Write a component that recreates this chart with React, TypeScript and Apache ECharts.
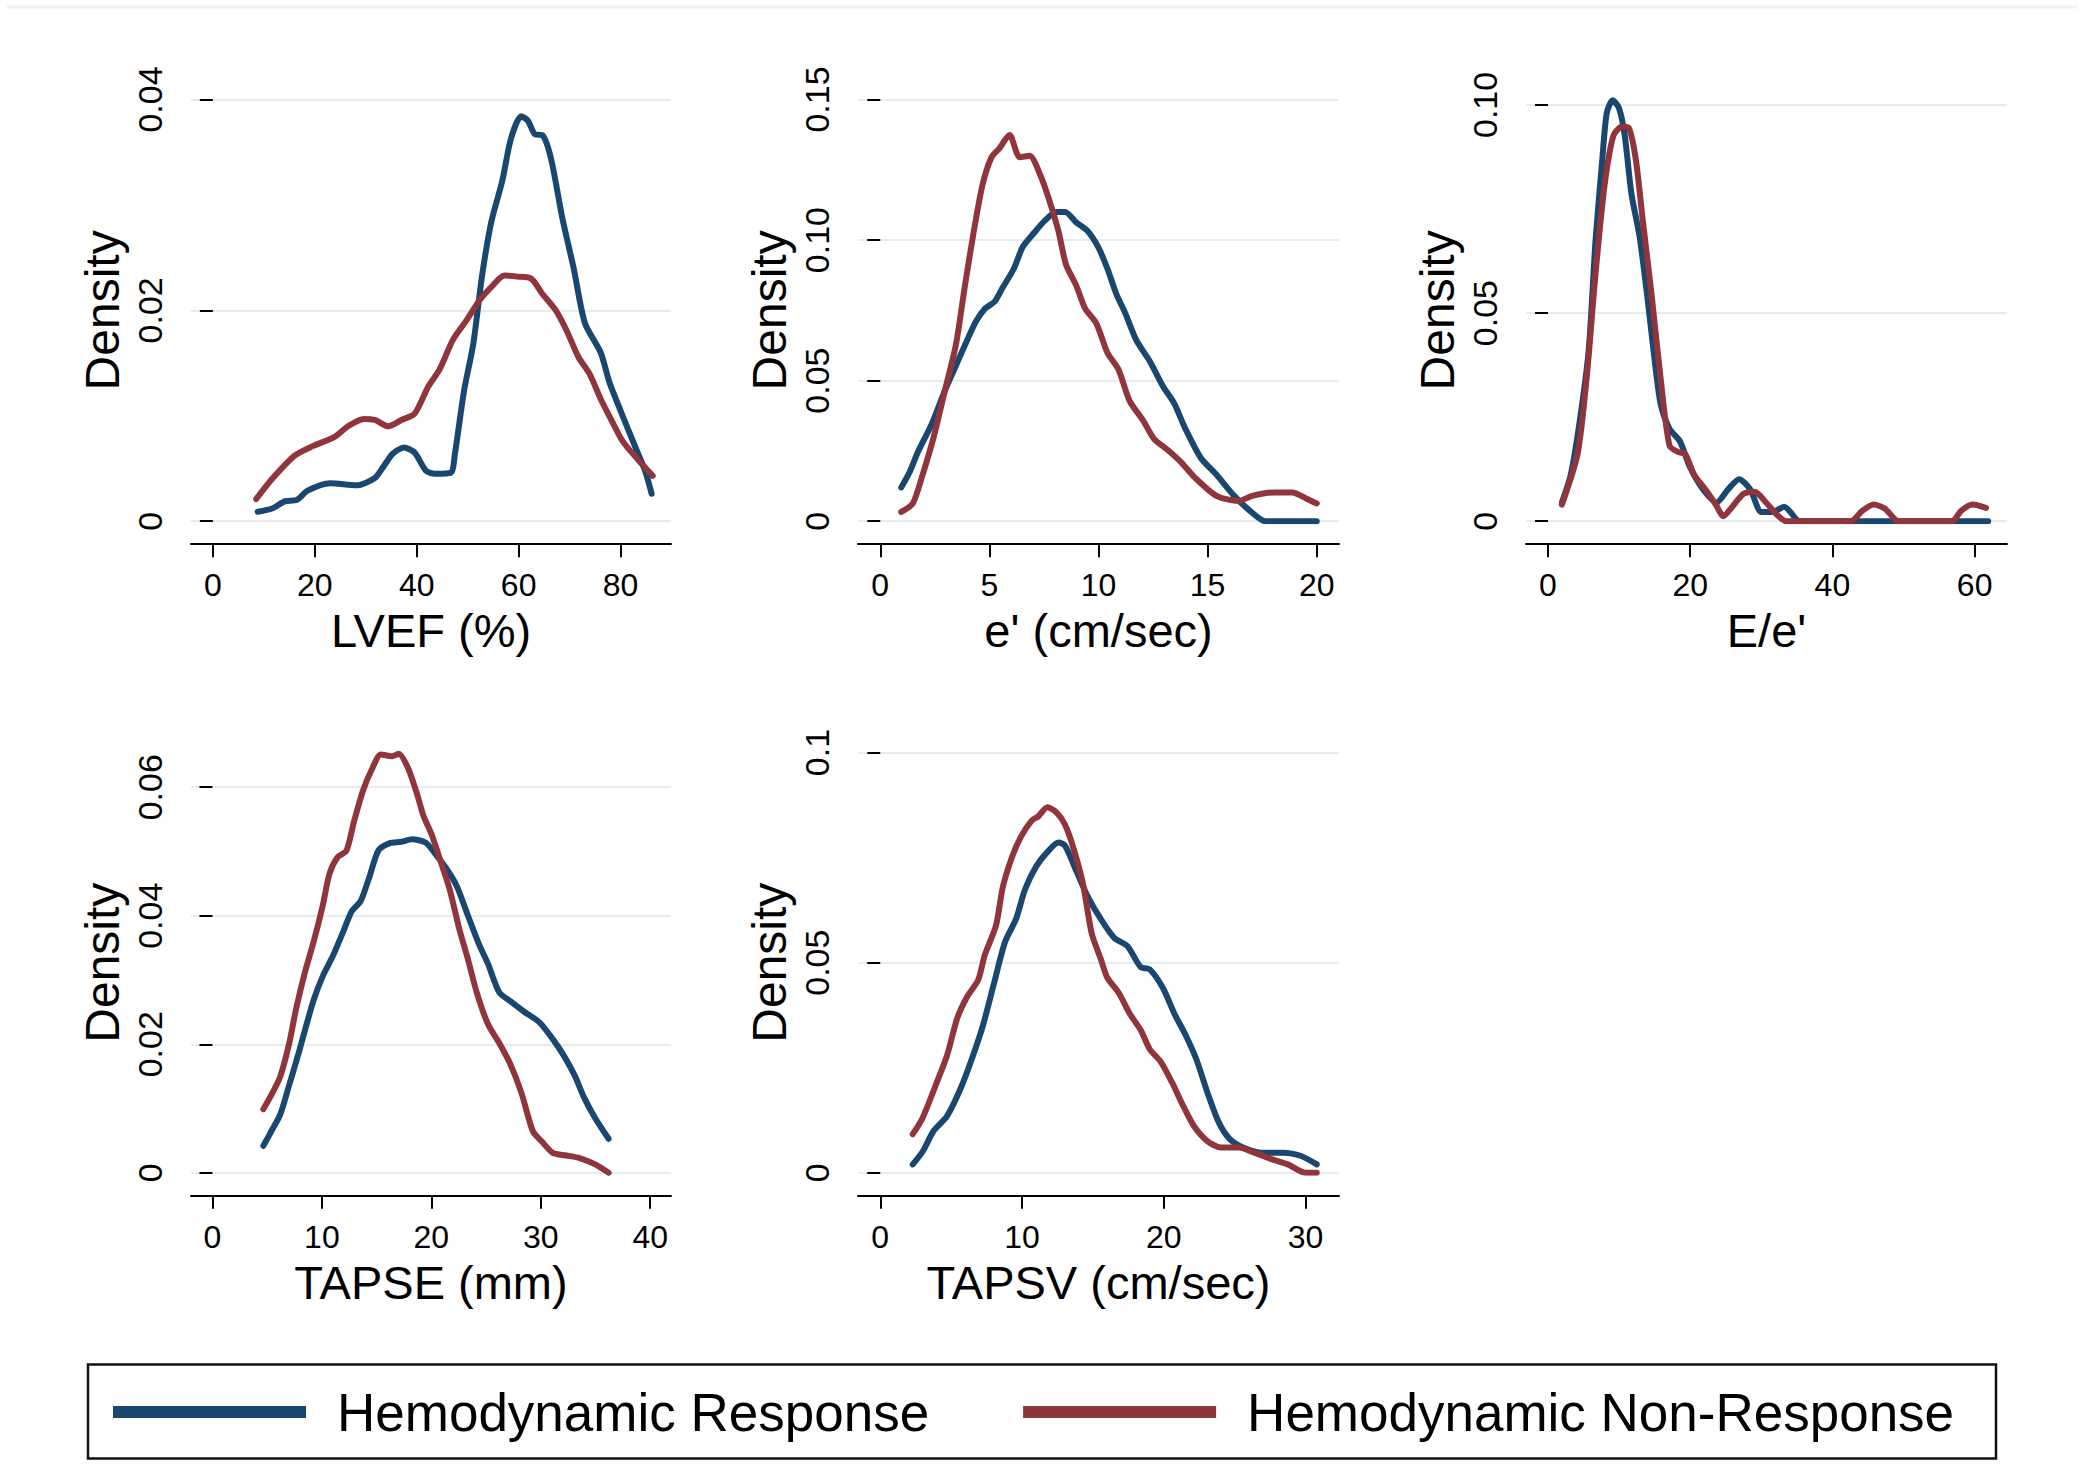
import React, { useEffect, useRef } from 'react';
import * as echarts from 'echarts';

// ---------- DATA ----------
const seriesNames = ['Hemodynamic Response', 'Hemodynamic Non-Response'];
const axisTitles = ['LVEF (%)', "e' (cm/sec)", "E/e'", 'TAPSE (mm)', 'TAPSV (cm/sec)'];

const xTickValues = [
  [0, 20, 40, 60, 80],
  [0, 5, 10, 15, 20],
  [0, 20, 40, 60],
  [0, 10, 20, 30, 40],
  [0, 10, 20, 30],
];
const yTickValues = [
  [0, 0.02, 0.04],
  [0, 0.05, 0.1, 0.15],
  [0, 0.05, 0.1],
  [0, 0.02, 0.04, 0.06],
  [0, 0.05, 0.1],
];
const yTickLabels = [
  ['0', '0.02', '0.04'],
  ['0', '0.05', '0.10', '0.15'],
  ['0', '0.05', '0.10'],
  ['0', '0.02', '0.04', '0.06'],
  ['0', '0.05', '0.1'],
];
const xExtents = [
  [-4.29, 89.9],
  [-1.02, 21.02],
  [-3.09, 64.55],
  [-1.96, 41.9],
  [-1.57, 32.36],
];
const yMaxima = [0.04, 0.15, 0.1013, 0.0654, 0.1];

// LVEF (%)
const lvefResponse = [
  [8.8, 0.0009], [11.6, 0.0012], [14.2, 0.0019], [16.4, 0.002], [18.6, 0.0029], [23.0, 0.0036],
  [28.2, 0.0034], [31.8, 0.0041], [33.5, 0.0052], [35.3, 0.0064], [37.5, 0.007], [39.6, 0.0065],
  [41.8, 0.0048], [43.6, 0.0045], [46.7, 0.0046], [47.5, 0.0064], [49.3, 0.0124], [51.1, 0.0168],
  [52.8, 0.0232], [54.6, 0.0283], [56.8, 0.0323], [58.5, 0.0363], [60.5, 0.0384], [61.8, 0.038],
  [63.2, 0.0367], [64.7, 0.0366], [66.4, 0.0343], [68.6, 0.0287], [70.8, 0.024], [73.0, 0.0188],
  [76.1, 0.016], [77.8, 0.0132], [80.4, 0.01], [83.1, 0.0068], [84.8, 0.0048], [86.1, 0.0026],
];
const lvefNonResponse = [
  [8.5, 0.0021], [11.6, 0.004], [16.0, 0.0062], [19.5, 0.0071], [23.9, 0.008], [26.5, 0.009],
  [29.6, 0.0097], [31.8, 0.0096], [34.4, 0.009], [37.0, 0.0096], [39.6, 0.0102], [42.3, 0.0128],
  [44.5, 0.0144], [47.1, 0.0172], [49.7, 0.019], [52.4, 0.021], [55.0, 0.0224], [57.2, 0.0233],
  [59.8, 0.0232], [62.5, 0.023], [64.6, 0.0216], [67.3, 0.02], [69.5, 0.018], [71.7, 0.0156],
  [73.9, 0.014], [76.1, 0.0116], [78.2, 0.0096], [80.4, 0.0076], [83.5, 0.0058], [86.3, 0.0043],
];

// e' (cm/sec)
const ePrimeResponse = [
  [0.96, 0.012], [1.33, 0.0172], [1.73, 0.0247], [2.35, 0.0344], [2.96, 0.0464], [3.47, 0.0554],
  [3.98, 0.0644], [4.39, 0.0711], [4.8, 0.0756], [5.24, 0.0781], [5.61, 0.0831], [6.12, 0.0898],
  [6.53, 0.0976], [7.04, 0.1025], [7.55, 0.107], [8.06, 0.11], [8.47, 0.11], [8.98, 0.1063],
  [9.49, 0.1033], [10.0, 0.0973], [10.41, 0.0898], [10.82, 0.0808], [11.22, 0.0741], [11.73, 0.0644],
  [12.35, 0.0569], [12.96, 0.0479], [13.47, 0.0419], [13.98, 0.0329], [14.69, 0.0225], [15.41, 0.0165],
  [16.22, 0.009], [16.94, 0.0037], [17.65, 0], [20.0, 0],
];
const ePrimeNonResponse = [
  [0.96, 0.0033], [1.49, 0.0063], [1.94, 0.0165], [2.45, 0.03], [2.96, 0.0464], [3.47, 0.0629],
  [3.88, 0.0838], [4.29, 0.1033], [4.69, 0.1198], [5.1, 0.1295], [5.45, 0.1325], [5.92, 0.1374],
  [6.39, 0.1295], [6.84, 0.13], [7.35, 0.1228], [7.76, 0.1138], [8.16, 0.1033], [8.51, 0.0913],
  [8.98, 0.0838], [9.39, 0.0756], [9.9, 0.0704], [10.41, 0.0599], [10.92, 0.0539], [11.43, 0.0427],
  [12.04, 0.0359], [12.55, 0.0292], [13.16, 0.0254], [13.78, 0.021], [14.39, 0.0157], [15.41, 0.009],
  [16.43, 0.0072], [17.04, 0.009], [18.06, 0.0102], [18.88, 0.0102], [19.49, 0.0082], [20.0, 0.0063],
];

// E/e'
const eRatioResponse = [
  [1.96, 0.0045], [3.2, 0.0111], [4.48, 0.0242], [5.74, 0.0413], [6.69, 0.0675], [7.63, 0.0867],
  [8.26, 0.098], [9.09, 0.1011], [9.97, 0.0993], [10.79, 0.0927], [11.74, 0.0786], [12.87, 0.0685],
  [13.94, 0.0544], [14.89, 0.0403], [15.84, 0.0282], [17.1, 0.0222], [18.55, 0.0192], [19.94, 0.0131],
  [21.83, 0.0076], [23.72, 0.0045], [25.3, 0.0076], [26.88, 0.0101], [28.45, 0.0076], [30.03, 0.0022],
  [31.61, 0.0022], [33.19, 0.0035], [35.08, 0.0002], [35.7, 0], [61.9, 0],
];
const eRatioNonResponse = [
  [1.96, 0.004], [4.16, 0.0161], [5.43, 0.0343], [6.69, 0.0595], [7.95, 0.0806], [9.21, 0.0927],
  [10.47, 0.0948], [11.42, 0.0943], [12.37, 0.0867], [13.31, 0.0726], [14.57, 0.0544], [15.84, 0.0343],
  [17.1, 0.0181], [18.36, 0.0166], [19.31, 0.0161], [20.57, 0.0111], [22.15, 0.0076], [23.6, 0.004],
  [24.67, 0.0012], [25.93, 0.0035], [27.51, 0.0066], [29.09, 0.0071], [30.66, 0.0045], [32.24, 0.0015],
  [33.5, 0], [42.6, 0], [44.2, 0.0025], [45.8, 0.004], [47.4, 0.003], [49.3, 0], [56.8, 0],
  [58.1, 0.0025], [59.7, 0.004], [61.6, 0.0032],
];

// TAPSE (mm)
const tapseResponse = [
  [4.65, 0.0042], [5.39, 0.0065], [6.2, 0.0091], [7.02, 0.0137], [7.92, 0.0189], [8.65, 0.0234],
  [9.27, 0.027], [10.08, 0.0306], [11.02, 0.0338], [11.92, 0.0374], [12.73, 0.0407], [13.55, 0.0423],
  [14.37, 0.0462], [15.18, 0.0502], [16.2, 0.0513], [17.22, 0.0515], [18.24, 0.0519], [19.47, 0.0514],
  [20.29, 0.0498], [21.31, 0.0475], [22.33, 0.0446], [23.35, 0.04], [24.37, 0.0355], [25.18, 0.0325],
  [26.2, 0.0281], [27.22, 0.0267], [28.45, 0.0251], [29.88, 0.0234], [31.1, 0.0208], [32.12, 0.0182],
  [33.14, 0.015], [33.96, 0.0117], [34.98, 0.0085], [36.2, 0.0053],
];
const tapseNonResponse = [
  [4.65, 0.0099], [5.47, 0.0124], [6.2, 0.015], [7.02, 0.0202], [7.63, 0.0254], [8.45, 0.0312],
  [9.27, 0.0361], [10.08, 0.0416], [10.69, 0.0465], [11.43, 0.0491], [12.24, 0.0501], [12.94, 0.0547],
  [13.76, 0.0595], [14.57, 0.0628], [15.39, 0.0651], [16.41, 0.0648], [17.02, 0.0652], [17.84, 0.0631],
  [18.65, 0.0592], [19.27, 0.0556], [20.08, 0.0524], [20.9, 0.0482], [21.71, 0.0439], [22.53, 0.0381],
  [23.35, 0.0332], [24.16, 0.028], [25.18, 0.0231], [26.2, 0.0202], [27.22, 0.0169], [28.24, 0.0124],
  [29.27, 0.0065], [30.08, 0.0049], [31.1, 0.0031], [32.33, 0.0027], [33.55, 0.0023], [34.98, 0.0013],
  [36.2, 0],
];

// TAPSV (cm/sec)
const tapsvResponse = [
  [2.29, 0.002], [2.98, 0.005], [3.77, 0.01], [4.71, 0.0135], [5.66, 0.02], [6.44, 0.0269],
  [7.23, 0.0349], [8.01, 0.0449], [8.8, 0.0549], [9.58, 0.0604], [10.21, 0.0674], [11.0, 0.0729],
  [11.78, 0.0763], [12.57, 0.0786], [13.04, 0.0778], [13.82, 0.0719], [14.61, 0.0659], [15.55, 0.0604],
  [16.5, 0.0559], [17.44, 0.0539], [18.38, 0.0489], [19.01, 0.0484], [19.95, 0.0439], [20.74, 0.0379],
  [21.52, 0.0329], [22.31, 0.0269], [23.09, 0.019], [23.88, 0.012], [24.66, 0.008], [25.6, 0.006],
  [26.86, 0.0048], [28.43, 0.0048], [29.69, 0.004], [30.79, 0.002],
];
const tapsvNonResponse = [
  [2.29, 0.0092], [2.98, 0.013], [3.93, 0.021], [4.71, 0.0279], [5.44, 0.0369], [6.13, 0.0419],
  [6.91, 0.0459], [7.38, 0.0519], [8.17, 0.0589], [8.64, 0.0679], [9.27, 0.0749], [9.9, 0.0798],
  [10.68, 0.0838], [11.15, 0.0848], [11.78, 0.087], [12.41, 0.0858], [13.04, 0.0828], [13.67, 0.0768],
  [14.29, 0.0689], [14.92, 0.0569], [15.55, 0.0509], [16.02, 0.0464], [16.81, 0.0429], [17.59, 0.0379],
  [18.38, 0.0339], [19.01, 0.0294], [19.79, 0.0264], [20.58, 0.0215], [21.36, 0.016], [22.15, 0.011],
  [23.09, 0.0075], [24.03, 0.006], [25.29, 0.006], [26.39, 0.0048], [27.65, 0.0032], [28.75, 0.002],
  [30.0, 0], [30.79, 0],
];

const responseCurves = [lvefResponse, ePrimeResponse, eRatioResponse, tapseResponse, tapsvResponse];
const nonResponseCurves = [lvefNonResponse, ePrimeNonResponse, eRatioNonResponse, tapseNonResponse, tapsvNonResponse];

// ---------- LAYOUT / STYLE ----------
const FONT = '"Liberation Sans", Arial, Helvetica, sans-serif';
const BLUE = '#1a476f';
const RED = '#90353b';
const GRID_COLOR = '#e4ecee';

const gridBoxes = [
  { left: 191, top: 99.5, width: 480, height: 421.7 },
  { left: 858, top: 99.5, width: 481, height: 421.7 },
  { left: 1526, top: 99.5, width: 481, height: 421.7 },
  { left: 191, top: 752.5, width: 480, height: 420.3 },
  { left: 858, top: 752.5, width: 481, height: 420.3 },
];

function buildOption() {
  const grid = gridBoxes.map((g) => ({ ...g, containLabel: false, outerBoundsMode: 'none' }));

  const xAxis = axisTitles.map((title, i) => ({
    type: 'value',
    gridIndex: i,
    min: xExtents[i][0],
    max: xExtents[i][1],
    position: 'bottom',
    offset: 23,
    name: title,
    nameLocation: 'middle',
    nameGap: 63,
    nameMoveOverlap: false,
    nameTextStyle: { fontSize: 47, fontFamily: FONT, color: '#000' },
    axisLine: { show: true, onZero: false, lineStyle: { color: '#000', width: 2 } },
    axisTick: {
      show: true,
      length: 13,
      customValues: xTickValues[i],
      lineStyle: { color: '#000', width: 2 },
    },
    axisLabel: {
      show: true,
      customValues: xTickValues[i],
      fontSize: 32,
      fontFamily: FONT,
      color: '#000',
      margin: 25,
      formatter: (v: number) => String(v),
    },
    splitLine: { show: false },
  }));

  const yAxis = axisTitles.map((_, i) => {
    const ticks = yTickValues[i];
    const labels = yTickLabels[i];
    return {
      type: 'value',
      gridIndex: i,
      min: 0,
      max: yMaxima[i],
      interval: ticks[1] - ticks[0],
      name: 'Density',
      nameLocation: 'middle',
      nameGap: 65,
      nameMoveOverlap: false,
      nameTextStyle: { fontSize: 48, fontFamily: FONT, color: '#000' },
      axisLine: { show: false },
      axisTick: {
        show: true,
        length: 13,
        customValues: ticks,
        lineStyle: { color: '#000', width: 2 },
      },
      axisLabel: {
        show: true,
        customValues: ticks,
        rotate: 90,
        fontSize: 34,
        fontFamily: FONT,
        color: '#000',
        margin: 24,
        formatter: (v: number) => {
          const idx = ticks.findIndex((t) => Math.abs(t - v) < 1e-9);
          return idx >= 0 ? labels[idx] : '';
        },
      },
      splitLine: { show: true, lineStyle: { color: GRID_COLOR, width: 2 } },
    };
  });

  const series: any[] = [];
  axisTitles.forEach((_, i) => {
    series.push({
      name: seriesNames[0],
      type: 'line',
      xAxisIndex: i,
      yAxisIndex: i,
      data: responseCurves[i],
      showSymbol: false,
      smooth: 0.25,
      color: BLUE,
      itemStyle: { color: BLUE },
      lineStyle: { color: BLUE, width: 6, cap: 'round', join: 'round' },
      z: 3,
    });
    series.push({
      name: seriesNames[1],
      type: 'line',
      xAxisIndex: i,
      yAxisIndex: i,
      data: nonResponseCurves[i],
      showSymbol: false,
      smooth: 0.25,
      color: RED,
      itemStyle: { color: RED },
      lineStyle: { color: RED, width: 6, cap: 'round', join: 'round' },
      z: 4,
    });
  });

  return {
    animation: false,
    backgroundColor: '#ffffff',
    textStyle: { fontFamily: FONT },
    grid,
    xAxis,
    yAxis,
    series,
    legend: {
      data: seriesNames,
      left: 113,
      top: 1385.5,
      padding: 0,
      icon: 'rect',
      itemWidth: 193,
      itemHeight: 12,
      itemGap: 94,
      selectedMode: false,
      textStyle: { fontSize: 53, fontFamily: FONT, color: '#000', padding: [0, 0, 0, 26] },
    },
    graphic: [
      {
        type: 'line',
        shape: { x1: 7, y1: 7, x2: 2077, y2: 7 },
        style: { stroke: '#edf2f4', lineWidth: 3 },
        silent: true,
      },
      {
        type: 'rect',
        shape: { x: 88, y: 1364.5, width: 1908, height: 94 },
        style: { fill: 'none', stroke: '#111', lineWidth: 2.5 },
        silent: true,
        z: 10,
      },
    ],
  };
}

export default function App() {
  const ref = useRef<HTMLDivElement>(null);
  useEffect(() => {
    if (!ref.current) return;
    const chart = echarts.init(ref.current, null, { renderer: 'svg' });
    chart.setOption(buildOption() as any);
    return () => chart.dispose();
  }, []);
  return (
    <div
      ref={ref}
      style={{ position: 'fixed', left: 0, top: 0, width: 2085, height: 1469, background: '#fff' }}
    />
  );
}
